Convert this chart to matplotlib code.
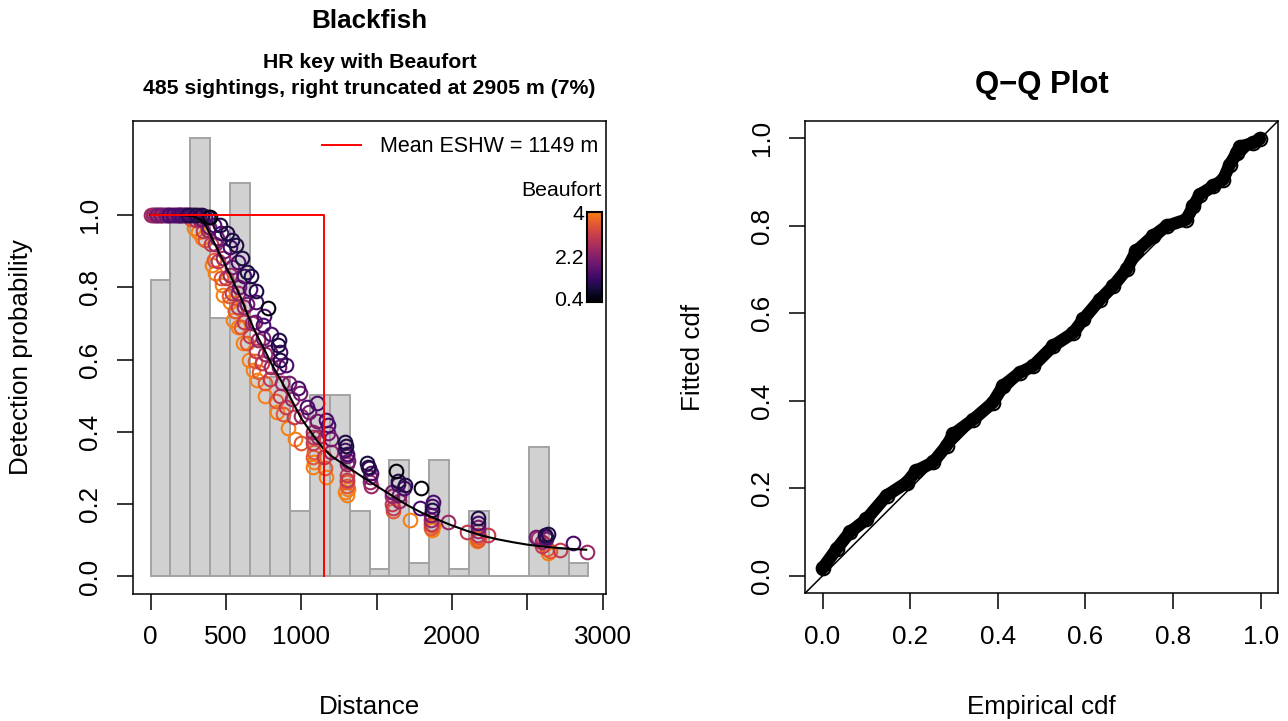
import numpy as np
import matplotlib.pyplot as plt
from matplotlib.colors import ListedColormap, Normalize

plt.rcParams["font.family"] = ["Liberation Sans", "DejaVu Sans"]

W, H = 1288, 721

# ---- left panel data -------------------------------------------------------
trunc_dist = 2905
eshw = 1149
# histogram bar heights (scaled to the detection probability axis), 22 bins
bar_heights = [0.820, 1.000, 1.212, 0.715, 1.089, 0.550, 0.553, 0.180, 0.501,
               0.501, 0.180, 0.021, 0.323, 0.036, 0.323, 0.021, 0.180, 0.0,
               0.0, 0.358, 0.075, 0.038]

# average fitted detection function
curve_dist = [0, 100, 200, 280, 330, 360, 415, 450, 500, 550, 600, 650, 700,
              750, 800, 850, 900, 1000, 1100, 1150, 1200, 1300, 1400, 1500,
              1600, 1700, 1800, 1900, 2000, 2100, 2200, 2300, 2400, 2500,
              2600, 2700, 2800, 2890]
curve_prob = [1.0, 1.0, 1.0, 0.997, 0.988, 0.975, 0.93, 0.900, 0.858, 0.815,
              0.770, 0.718, 0.672, 0.632, 0.590, 0.553, 0.517, 0.437, 0.378,
              0.352, 0.333, 0.305, 0.277, 0.250, 0.224, 0.198, 0.176, 0.158,
              0.141, 0.126, 0.113, 0.103, 0.095, 0.088, 0.083, 0.079, 0.076,
              0.074]

# fitted detection probability of each sighting, grouped by Beaufort
pts_bf05 = [(393, 0.995), (780, 0.742), (1625, 0.292), (1797, 0.244)]
pts_bf10 = [(250, 1.0), (300, 1.0), (340, 1.0), (380, 0.995), (460, 0.972),
            (504, 0.949), (540, 0.93), (570, 0.917), (610, 0.88), (637, 0.843),
            (665, 0.83), (700, 0.79), (846, 0.64), (852, 0.655), (858, 0.6),
            (1290, 0.373), (1296, 0.36), (1433, 0.313), (1440, 0.302),
            (1640, 0.263), (1687, 0.254), (1864, 0.184), (2173, 0.163),
            (2615, 0.115), (2637, 0.117)]
pts_bf15 = [(120, 1.0), (150, 1.0), (180, 1.0), (205, 1.0), (230, 1.0),
            (265, 1.0), (290, 1.0), (320, 1.0), (360, 0.993), (420, 0.972),
            (470, 0.95), (530, 0.91), (580, 0.87), (620, 0.83), (660, 0.795),
            (700, 0.76), (747, 0.696), (750, 0.72), (800, 0.67), (860, 0.62),
            (900, 0.585), (980, 0.52), (1035, 0.47), (1101, 0.479),
            (1167, 0.433), (1178, 0.42), (1290, 0.35), (1300, 0.34),
            (1450, 0.3), (1460, 0.285), (1640, 0.255), (1680, 0.245),
            (1786, 0.19), (1864, 0.196), (1872, 0.205), (2170, 0.148),
            (2620, 0.108), (2803, 0.092)]
pts_bf20 = [(40, 1.0), (70, 1.0), (100, 1.0), (125, 1.0), (160, 1.0),
            (190, 1.0), (215, 1.0), (245, 1.0), (275, 1.0), (340, 0.99),
            (390, 0.968), (440, 0.935), (490, 0.9), (540, 0.855), (590, 0.8),
            (640, 0.755), (690, 0.705), (747, 0.66), (790, 0.62), (850, 0.58),
            (920, 0.535), (990, 0.507), (1050, 0.455), (1101, 0.43),
            (1178, 0.396), (1200, 0.38), (1300, 0.332), (1310, 0.32),
            (1455, 0.275), (1600, 0.235), (1650, 0.225), (1860, 0.17),
            (2173, 0.138), (2560, 0.11), (2625, 0.104)]
pts_bf25 = [(5, 1.0), (15, 1.0), (25, 1.0), (35, 1.0), (48, 1.0), (60, 1.0),
            (75, 1.0), (90, 1.0), (110, 1.0), (135, 1.0), (170, 1.0),
            (200, 1.0), (330, 0.985), (380, 0.958), (430, 0.92), (480, 0.88),
            (530, 0.835), (580, 0.785), (620, 0.745), (670, 0.7), (710, 0.655),
            (760, 0.615), (800, 0.58), (870, 0.535), (940, 0.49), (1000, 0.445),
            (1075, 0.4), (1110, 0.385), (1200, 0.345), (1300, 0.31),
            (1455, 0.26), (1462, 0.249), (1600, 0.222), (1650, 0.208),
            (1860, 0.155), (1974, 0.152), (2170, 0.125), (2571, 0.106),
            (2600, 0.095), (2892, 0.069)]
pts_bf30 = [(190, 1.0), (230, 1.0), (260, 1.0), (300, 0.985), (350, 0.955),
            (400, 0.92), (450, 0.872), (500, 0.825), (540, 0.785), (580, 0.745),
            (620, 0.705), (660, 0.665), (700, 0.625), (740, 0.59), (791, 0.545),
            (858, 0.5), (900, 0.47), (950, 0.44), (1075, 0.37), (1080, 0.385),
            (1150, 0.33), (1300, 0.28), (1305, 0.268), (1600, 0.2),
            (1610, 0.19), (1860, 0.145), (2096, 0.124), (2170, 0.115),
            (2239, 0.115), (2600, 0.085), (2715, 0.074)]
pts_bf35 = [(270, 0.99), (360, 0.93), (420, 0.875), (470, 0.825), (520, 0.775),
            (560, 0.735), (600, 0.69), (640, 0.645), (690, 0.595), (720, 0.565),
            (760, 0.535), (830, 0.485), (880, 0.45), (1000, 0.37), (1080, 0.33),
            (1085, 0.345), (1160, 0.3), (1300, 0.25), (1305, 0.26),
            (1610, 0.18), (1860, 0.135), (1866, 0.142), (2175, 0.1),
            (2180, 0.11), (2630, 0.075), (2650, 0.07)]
pts_bf40 = [(290, 0.965), (316, 0.954), (340, 0.935), (405, 0.862),
            (430, 0.84), (471, 0.806), (482, 0.779), (526, 0.76), (548, 0.71),
            (559, 0.733), (580, 0.69), (614, 0.645), (650, 0.6), (681, 0.57),
            (703, 0.544), (760, 0.5), (840, 0.455), (913, 0.41), (960, 0.38),
            (1079, 0.304), (1085, 0.318), (1167, 0.276), (1290, 0.235),
            (1300, 0.225), (1310, 0.242), (1720, 0.157), (1864, 0.129),
            (1872, 0.14), (2173, 0.106), (2168, 0.097), (2637, 0.065),
            (2615, 0.09)]

groups = [(4.0, pts_bf40), (3.5, pts_bf35), (3.0, pts_bf30), (2.5, pts_bf25),
          (2.0, pts_bf20), (1.5, pts_bf15), (1.0, pts_bf10), (0.5, pts_bf05)]
bf_min, bf_max = 0.4, 4.0

# ---- right panel data (Q-Q) -----------------------------------------------
qq_emp = [0.0, 0.032, 0.062, 0.100, 0.146, 0.192, 0.214, 0.252, 0.283, 0.298,
          0.344, 0.389, 0.412, 0.450, 0.480, 0.526, 0.572, 0.595, 0.633, 0.663,
          0.694, 0.716, 0.754, 0.785, 0.830, 0.846, 0.861, 0.891, 0.914, 0.929,
          0.945, 0.952, 0.982, 0.998]
qq_fit = [0.017, 0.061, 0.099, 0.129, 0.183, 0.213, 0.240, 0.259, 0.297, 0.323,
          0.357, 0.396, 0.434, 0.464, 0.479, 0.525, 0.555, 0.586, 0.631, 0.662,
          0.700, 0.742, 0.776, 0.799, 0.814, 0.844, 0.871, 0.890, 0.905, 0.939,
          0.966, 0.980, 0.989, 0.998]

# ---- figure ---------------------------------------------------------------
fig = plt.figure(figsize=(W / 100, H / 100), dpi=100)


def px_axes(x0, y0, x1, y1):
    return fig.add_axes([x0 / W, 1 - y1 / H, (x1 - x0) / W, (y1 - y0) / H])


def ptext(x, y, s, **kw):
    fig.text(x / W, 1 - y / H, s, **kw)


def style_axes(ax):
    for sp in ax.spines.values():
        sp.set_linewidth(1.1)
    ax.tick_params(direction="out", length=11.5, width=1.1, labelsize=18.7,
                   pad=11)
    for lab in ax.get_yticklabels():
        lab.set_rotation(90)
        lab.set_va("center")


cmap = ListedColormap(plt.cm.inferno(np.linspace(0, 0.72, 256)))
norm = Normalize(bf_min, bf_max)

ax1 = px_axes(133, 120.7, 606, 594)
edges = np.linspace(0, trunc_dist, len(bar_heights) + 1)
ax1.bar(edges[:-1], bar_heights, width=np.diff(edges), align="edge",
        color="#d1d1d1", edgecolor="#a3a3a3", linewidth=1.4, zorder=1)

for bf, pts in groups:
    d = [p[0] for p in pts]
    g = [p[1] for p in pts]
    ax1.plot(d, g, "o", mfc="none", mec=cmap(norm(bf)), ms=9.8, mew=1.5,
             zorder=2)

ax1.plot(curve_dist, curve_prob, color="black", lw=1.5, zorder=3)
ax1.plot([0, eshw, eshw], [1, 1, 0], color="red", lw=1.4, zorder=4,
         label=f"Mean ESHW = {eshw} m")

ax1.set_xlim(-116.2, 3021.2)
ax1.set_ylim(-0.0485, 1.2607)
ax1.set_xticks(range(0, 3001, 500))
ax1.set_xticklabels(["0", "500", "1000", "", "2000", "", "3000"])
ax1.set_yticks([0, 0.2, 0.4, 0.6, 0.8, 1.0])
ax1.set_yticklabels(["0.0", "0.2", "0.4", "0.6", "0.8", "1.0"])
style_axes(ax1)

ax1.legend(loc="center right", frameon=False, fontsize=15.5,
           handlelength=1.85, handletextpad=0.85, borderpad=0,
           borderaxespad=0,
           bbox_to_anchor=((598 - 133) / 473, (594 - 147) / 473.3))

# colour bar for Beaufort
cax = px_axes(587, 212, 602, 302)
cax.imshow(np.linspace(0, 1, 256)[:, None], aspect="auto", cmap=cmap,
           origin="lower")
cax.set_xticks([])
cax.set_yticks([])
for sp in cax.spines.values():
    sp.set_linewidth(1.5)
ptext(602, 191, "Beaufort", ha="right", va="center", fontsize=15.3)
for val, y in [("4", 214), ("2.2", 258), ("0.4", 301)]:
    ptext(584, y, val, ha="right", va="center", fontsize=15.3)

ptext(369.5, 21, "Blackfish", ha="center", va="center", fontsize=18.7,
      weight="bold")
ptext(369.5, 62, "HR key with Beaufort", ha="center", va="center",
      fontsize=15.3, weight="bold")
ptext(369.5, 88, "485 sightings, right truncated at 2905 m (7%)",
      ha="center", va="center", fontsize=15.3, weight="bold")
ptext(369.5, 707, "Distance", ha="center", va="center", fontsize=18.7)
ptext(21, 357, "Detection probability", ha="center", va="center",
      rotation=90, fontsize=18.7)

# ---- Q-Q plot -------------------------------------------------------------
ax2 = px_axes(805, 120.7, 1278.3, 593.3)
ax2.axline((0, 0), (1, 1), color="black", lw=1.1, zorder=1)
ax2.plot(qq_emp, qq_fit, color="black", lw=9.0, solid_capstyle="round",
         solid_joinstyle="round", zorder=2)
ax2.plot(qq_emp, qq_fit, "o", mfc="none", mec="black", ms=9.8, mew=1.5,
         zorder=3)
ax2.set_xlim(-0.04, 1.04)
ax2.set_ylim(-0.04, 1.04)
ticks = [0, 0.2, 0.4, 0.6, 0.8, 1.0]
tick_labels = ["0.0", "0.2", "0.4", "0.6", "0.8", "1.0"]
ax2.set_xticks(ticks)
ax2.set_xticklabels(tick_labels)
ax2.set_yticks(ticks)
ax2.set_yticklabels(tick_labels)
style_axes(ax2)

ptext(1041.7, 85, "Q\u2212Q Plot", ha="center", va="center", fontsize=22.4,
      weight="bold")
ptext(1041.7, 707, "Empirical cdf", ha="center", va="center", fontsize=18.7)
ptext(693, 357, "Fitted cdf", ha="center", va="center", rotation=90,
      fontsize=18.7)

fig.savefig("out.png", dpi=100)
